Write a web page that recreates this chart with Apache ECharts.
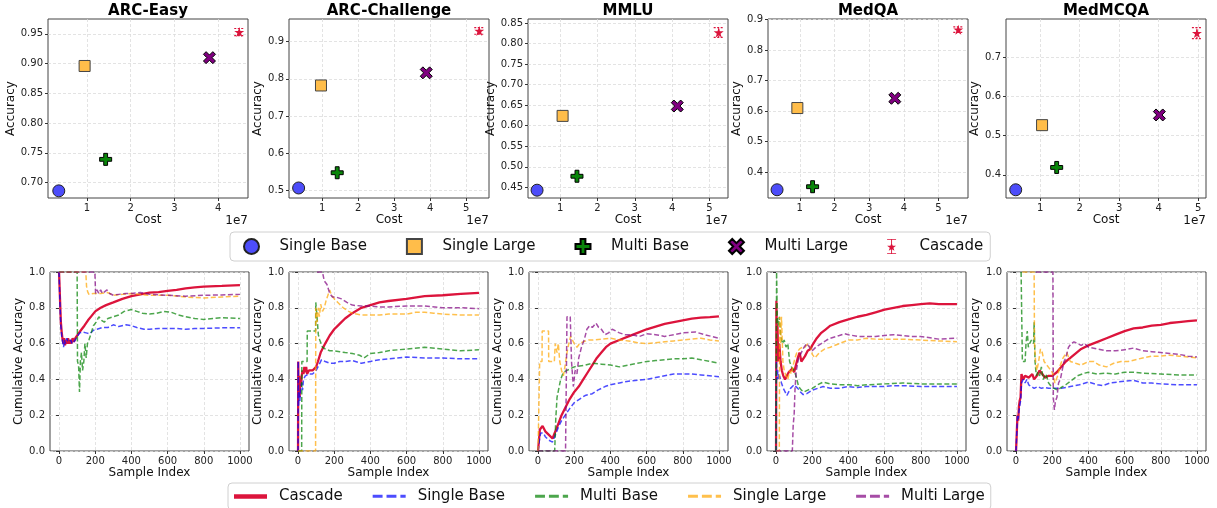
<!DOCTYPE html>
<html>
<head>
<meta charset="utf-8">
<script src="https://cdn.jsdelivr.net/npm/echarts@6/dist/echarts.min.js"></script>
<style>
  html, body { margin: 0; padding: 0; background: #fff; }
  #chart { width: 1217px; height: 508px; }
</style>
</head>
<body>
<div id="chart"></div>
<script>
// datasets / panels
const datasets = ['ARC-Easy', 'ARC-Challenge', 'MMLU', 'MedQA', 'MedMCQA'];

// cost (x1e7) vs accuracy, one value per dataset
const singleBaseCost = [0.36, 0.35, 0.38, 0.345, 0.383];
const singleBaseAcc = [0.686, 0.506, 0.443, 0.342, 0.362];
const singleLargeCost = [0.95, 0.97, 1.065, 0.93, 1.05];
const singleLargeAcc = [0.896, 0.782, 0.624, 0.61, 0.527];
const multiBaseCost = [1.43, 1.42, 1.45, 1.37, 1.42];
const multiBaseAcc = [0.739, 0.547, 0.477, 0.352, 0.419];
const multiLargeCost = [3.8, 3.89, 4.14, 3.74, 4.02];
const multiLargeAcc = [0.910, 0.816, 0.648, 0.642, 0.553];
const cascadeCost = [4.48, 5.36, 5.25, 5.57, 4.97];
const cascadeAcc = [0.953, 0.929, 0.827, 0.867, 0.762];
const cascadeErr = [0.006, 0.009, 0.012, 0.009, 0.014];

// scatter axis limits and ticks
const costMin = [0.114, 0.083, 0.137, 0.084, 0.137];
const costMax = [4.68, 5.63, 5.50, 5.85, 5.20];
const costTicks = [[1, 2, 3, 4], [1, 2, 3, 4, 5], [1, 2, 3, 4, 5], [1, 2, 3, 4, 5], [1, 2, 3, 4, 5]];
const accMin = [0.674, 0.479, 0.424, 0.315, 0.341];
const accMax = [0.975, 0.961, 0.860, 0.902, 0.798];
const accTicks = [
  [0.70, 0.75, 0.80, 0.85, 0.90, 0.95],
  [0.5, 0.6, 0.7, 0.8, 0.9],
  [0.45, 0.50, 0.55, 0.60, 0.65, 0.70, 0.75, 0.80, 0.85],
  [0.4, 0.5, 0.6, 0.7, 0.8, 0.9],
  [0.4, 0.5, 0.6, 0.7]
];
const accDecimals = [2, 1, 2, 1, 1];

// cumulative accuracy, [sample index, accuracy]
const arcEasyCascade = [[0,1],[3,1],[6,0.83],[10,0.72],[15,0.66],[20,0.62],[24,0.6],[28,0.63],[33,0.59],[38,0.62],[44,0.6],[50,0.63],[55,0.6],[62,0.62],[68,0.6],[75,0.63],[82,0.61],[90,0.63],[100,0.64],[110,0.66],[125,0.68],[140,0.7],[160,0.73],[180,0.755],[200,0.78],[230,0.8],[260,0.815],[300,0.83],[350,0.85],[400,0.865],[450,0.875],[500,0.885],[550,0.888],[600,0.894],[650,0.9],[700,0.909],[750,0.914],[800,0.918],[900,0.922],[1000,0.927]];
const arcEasySingleBase = [[0,1],[3,1],[6,0.8],[10,0.7],[15,0.64],[20,0.61],[25,0.58],[30,0.62],[35,0.6],[42,0.63],[50,0.61],[58,0.6],[65,0.62],[72,0.6],[80,0.61],[90,0.62],[100,0.64],[115,0.66],[130,0.665],[150,0.66],[170,0.655],[190,0.675],[210,0.68],[240,0.69],[270,0.69],[300,0.705],[330,0.695],[370,0.705],[400,0.7],[430,0.69],[470,0.68],[500,0.68],[550,0.685],[600,0.685],[650,0.685],[700,0.68],[750,0.685],[800,0.685],[900,0.688],[1000,0.688]];
const arcEasyMultiBase = [[0,1],[100,1],[102,0.5],[108,0.48],[113,0.33],[118,0.5],[124,0.55],[130,0.45],[137,0.5],[143,0.6],[150,0.52],[157,0.6],[165,0.62],[175,0.65],[190,0.7],[205,0.72],[220,0.75],[235,0.73],[250,0.72],[270,0.74],[300,0.75],[330,0.76],[360,0.78],[400,0.79],[430,0.78],[460,0.77],[500,0.765],[540,0.77],[580,0.78],[620,0.775],[660,0.76],[700,0.75],[750,0.74],[800,0.735],[900,0.745],[1000,0.74]];
const arcEasySingleLarge = [[0,1],[148,1],[152,0.92],[158,0.89],[165,0.875],[175,0.87],[190,0.88],[200,0.87],[230,0.88],[270,0.885],[300,0.87],[350,0.875],[400,0.88],[450,0.875],[500,0.87],[600,0.87],[700,0.86],[800,0.855],[900,0.86],[1000,0.865]];
const arcEasyMultiLarge = [[0,1],[198,1],[202,0.88],[210,0.9],[220,0.88],[230,0.9],[240,0.88],[250,0.89],[265,0.9],[280,0.88],[300,0.87],[330,0.875],[370,0.88],[400,0.88],[450,0.885],[500,0.875],[600,0.87],[700,0.865],[800,0.87],[900,0.872],[1000,0.875]];

const arcChCascade = [[0,0],[1,0.5],[3,0.33],[6,0.42],[9,0.3],[12,0.4],[16,0.36],[20,0.42],[25,0.45],[30,0.43],[35,0.47],[40,0.44],[45,0.47],[50,0.43],[60,0.45],[70,0.44],[80,0.45],[90,0.45],[100,0.47],[110,0.5],[125,0.55],[150,0.6],[175,0.645],[200,0.68],[230,0.71],[260,0.74],[300,0.77],[350,0.8],[400,0.815],[450,0.83],[500,0.838],[600,0.85],[700,0.865],[800,0.87],[900,0.878],[1000,0.883]];
const arcChSingleBase = [[0,0],[1,0.5],[3,0.25],[6,0.33],[10,0.28],[14,0.35],[20,0.38],[25,0.34],[30,0.4],[40,0.42],[50,0.42],[60,0.43],[70,0.42],[80,0.43],[90,0.44],[100,0.45],[115,0.48],[130,0.51],[150,0.5],[175,0.49],[200,0.49],[230,0.5],[260,0.5],[300,0.505],[350,0.49],[400,0.5],[450,0.51],[500,0.515],[600,0.525],[700,0.52],[800,0.52],[900,0.515],[1000,0.515]];
const arcChMultiBase = [[0,0],[20,0],[21,0.5],[50,0.5],[51,0.67],[97,0.67],[98,0.83],[105,0.75],[112,0.65],[120,0.62],[135,0.58],[150,0.57],[175,0.56],[200,0.56],[230,0.555],[260,0.55],[300,0.545],[340,0.535],[365,0.52],[400,0.545],[450,0.55],[500,0.56],[600,0.57],[700,0.58],[800,0.57],[900,0.56],[1000,0.565]];
const arcChSingleLarge = [[0,0],[97,0],[98,0.8],[105,0.72],[112,0.8],[118,0.75],[125,0.82],[135,0.78],[145,0.8],[155,0.84],[165,0.87],[175,0.9],[185,0.87],[200,0.85],[220,0.83],[250,0.8],[280,0.78],[300,0.77],[350,0.76],[400,0.76],[450,0.76],[500,0.765],[550,0.765],[600,0.765],[650,0.775],[700,0.775],[750,0.77],[800,0.765],[900,0.76],[1000,0.76]];
const arcChMultiLarge = [[105,1],[135,1],[145,0.95],[160,0.93],[175,0.88],[190,0.86],[210,0.86],[240,0.85],[270,0.83],[300,0.815],[350,0.81],[400,0.81],[450,0.805],[500,0.805],[600,0.81],[700,0.81],[800,0.8],[900,0.8],[1000,0.795]];

const mmluCascade = [[0,0],[8,0],[10,0.12],[15,0.13],[20,0.12],[25,0.14],[30,0.13],[40,0.11],[50,0.1],[60,0.09],[70,0.08],[80,0.07],[90,0.08],[100,0.12],[115,0.16],[130,0.2],[150,0.24],[175,0.29],[200,0.33],[225,0.36],[250,0.4],[275,0.44],[300,0.48],[325,0.52],[350,0.55],[375,0.58],[400,0.6],[450,0.62],[500,0.64],[550,0.66],[600,0.68],[650,0.695],[700,0.71],[750,0.72],[800,0.73],[850,0.74],[900,0.745],[950,0.748],[1000,0.752]];
const mmluSingleBase = [[0,0],[8,0],[10,0.08],[15,0.1],[20,0.09],[30,0.1],[40,0.08],[50,0.07],[60,0.06],[70,0.055],[80,0.05],[90,0.06],[100,0.1],[115,0.14],[130,0.17],[150,0.2],[170,0.23],[200,0.27],[230,0.29],[260,0.31],[300,0.32],[330,0.34],[370,0.36],[400,0.37],[450,0.38],[500,0.39],[550,0.395],[600,0.4],[650,0.41],[700,0.42],[750,0.43],[800,0.43],[850,0.43],[900,0.425],[1000,0.415]];
const mmluMultiBase = [[0,0],[92,0],[98,0.18],[105,0.3],[115,0.35],[125,0.4],[140,0.44],[160,0.45],[180,0.46],[200,0.47],[230,0.475],[260,0.48],[300,0.49],[350,0.485],[400,0.48],[450,0.47],[500,0.48],[550,0.49],[600,0.5],[650,0.505],[700,0.51],[750,0.515],[800,0.515],[850,0.52],[900,0.51],[950,0.5],[1000,0.49]];
const mmluSingleLarge = [[0,0],[8,0],[9,0.5],[22,0.5],[23,0.67],[58,0.67],[59,0.5],[90,0.5],[95,0.6],[105,0.55],[112,0.6],[120,0.5],[130,0.45],[140,0.42],[150,0.48],[160,0.55],[170,0.6],[180,0.64],[190,0.62],[200,0.6],[215,0.58],[230,0.6],[250,0.61],[280,0.62],[300,0.62],[350,0.625],[400,0.63],[450,0.62],[500,0.615],[550,0.605],[600,0.6],[650,0.605],[700,0.61],[750,0.615],[800,0.62],[850,0.625],[900,0.63],[950,0.62],[1000,0.615]];
const mmluMultiLarge = [[0,0],[152,0],[160,0.75],[178,0.75],[185,0.5],[195,0.36],[205,0.45],[215,0.43],[225,0.52],[240,0.58],[255,0.62],[270,0.68],[285,0.7],[300,0.69],[320,0.715],[335,0.69],[350,0.68],[370,0.65],[390,0.66],[410,0.68],[430,0.67],[450,0.66],[480,0.65],[520,0.65],[560,0.64],[600,0.655],[650,0.65],[700,0.64],[750,0.65],[800,0.66],[870,0.665],[920,0.65],[1000,0.63]];

const medqaCascade = [[0,0],[2,0.84],[5,0.6],[8,0.7],[12,0.5],[18,0.6],[25,0.5],[32,0.45],[40,0.42],[50,0.4],[60,0.42],[70,0.44],[80,0.43],[90,0.46],[100,0.44],[110,0.48],[120,0.52],[130,0.55],[140,0.5],[150,0.49],[160,0.53],[175,0.56],[190,0.57],[200,0.59],[225,0.63],[250,0.66],[275,0.68],[300,0.7],[350,0.72],[400,0.735],[450,0.75],[500,0.76],[550,0.775],[600,0.79],[650,0.8],[700,0.81],[750,0.815],[800,0.82],[850,0.825],[900,0.82],[1000,0.82]];
const medqaSingleBase = [[0,0],[2,0.5],[6,0.4],[10,0.45],[15,0.4],[20,0.42],[30,0.38],[40,0.35],[50,0.33],[60,0.31],[70,0.33],[80,0.35],[90,0.34],[100,0.37],[110,0.36],[120,0.35],[135,0.33],[150,0.315],[170,0.32],[200,0.34],[230,0.35],[260,0.36],[300,0.35],[350,0.35],[400,0.36],[450,0.355],[500,0.36],[550,0.36],[600,0.36],[650,0.365],[700,0.365],[800,0.36],[900,0.36],[1000,0.36]];
const medqaMultiBase = [[0,0],[3,1],[7,0.75],[12,0.7],[18,0.75],[25,0.65],[35,0.6],[45,0.62],[55,0.58],[65,0.6],[75,0.5],[85,0.47],[100,0.45],[110,0.42],[125,0.36],[140,0.34],[155,0.33],[175,0.34],[200,0.35],[230,0.37],[260,0.385],[300,0.375],[350,0.37],[400,0.37],[450,0.365],[500,0.37],[600,0.375],[700,0.38],[800,0.375],[900,0.375],[1000,0.375]];
const medqaSingleLarge = [[0,0],[18,0],[20,0.75],[25,0.6],[30,0.75],[38,0.5],[45,0.45],[55,0.42],[65,0.4],[75,0.45],[85,0.43],[95,0.48],[105,0.52],[115,0.55],[130,0.57],[145,0.58],[160,0.58],[175,0.6],[190,0.58],[200,0.54],[215,0.52],[240,0.55],[270,0.57],[300,0.58],[350,0.6],[400,0.62],[450,0.62],[500,0.63],[550,0.625],[600,0.625],[700,0.625],[800,0.62],[900,0.615],[1000,0.61]];
const medqaMultiLarge = [[0,0],[90,0],[95,0.15],[100,0.2],[105,0.35],[112,0.45],[125,0.52],[140,0.55],[155,0.58],[170,0.6],[185,0.58],[200,0.56],[220,0.58],[250,0.6],[280,0.62],[300,0.63],[350,0.645],[380,0.655],[400,0.65],[450,0.64],[500,0.64],[550,0.64],[600,0.645],[650,0.65],[700,0.645],[750,0.64],[800,0.64],[900,0.625],[1000,0.63]];

const medmcqaCascade = [[0,0],[4,0.1],[8,0.2],[12,0.17],[16,0.25],[20,0.28],[25,0.3],[30,0.43],[40,0.4],[50,0.42],[60,0.43],[70,0.41],[80,0.42],[90,0.43],[100,0.4],[115,0.42],[130,0.45],[145,0.43],[160,0.41],[180,0.42],[200,0.42],[225,0.44],[250,0.47],[275,0.5],[300,0.52],[330,0.545],[360,0.57],[400,0.59],[450,0.61],[500,0.63],[550,0.65],[600,0.67],[650,0.685],[700,0.69],[750,0.7],[800,0.705],[850,0.715],[900,0.72],[950,0.725],[1000,0.73]];
const medmcqaSingleBase = [[0,0],[4,0.1],[8,0.2],[12,0.18],[16,0.22],[20,0.25],[25,0.28],[30,0.38],[40,0.4],[50,0.38],[60,0.4],[70,0.37],[80,0.36],[100,0.35],[120,0.36],[140,0.35],[160,0.355],[180,0.35],[200,0.35],[250,0.35],[300,0.36],[350,0.37],[400,0.385],[450,0.37],[480,0.365],[520,0.38],[560,0.385],[600,0.39],[650,0.395],[700,0.38],[750,0.38],[800,0.375],[900,0.37],[1000,0.37]];
const medmcqaMultiBase = [[28,1],[34,1],[35,0.5],[50,0.5],[55,0.6],[62,0.67],[68,0.58],[75,0.6],[85,0.62],[97,0.6],[100,0.72],[105,0.5],[112,0.42],[120,0.44],[130,0.42],[140,0.47],[150,0.4],[165,0.43],[180,0.38],[195,0.36],[210,0.35],[230,0.34],[250,0.355],[275,0.37],[300,0.39],[340,0.42],[380,0.435],[400,0.44],[450,0.43],[500,0.435],[550,0.43],[600,0.44],[650,0.44],[700,0.435],[800,0.43],[900,0.425],[1000,0.425]];
const medmcqaSingleLarge = [[35,1],[100,1],[102,0.6],[108,0.5],[115,0.45],[125,0.5],[135,0.57],[145,0.55],[155,0.5],[170,0.48],[185,0.46],[200,0.44],[215,0.38],[230,0.42],[245,0.48],[260,0.52],[280,0.55],[300,0.5],[330,0.49],[360,0.48],[400,0.5],[430,0.5],[460,0.48],[500,0.47],[540,0.49],[580,0.5],[620,0.5],[660,0.51],[700,0.52],[750,0.53],[800,0.53],[850,0.535],[900,0.53],[950,0.525],[1000,0.52]];
const medmcqaMultiLarge = [[110,1],[204,1],[206,0.3],[212,0.23],[218,0.28],[226,0.3],[235,0.38],[245,0.4],[255,0.45],[265,0.5],[275,0.52],[290,0.58],[305,0.6],[320,0.61],[340,0.6],[360,0.59],[380,0.6],[400,0.58],[450,0.57],[500,0.56],[550,0.56],[600,0.565],[650,0.575],[700,0.56],[750,0.555],[800,0.55],[850,0.545],[900,0.54],[950,0.53],[1000,0.525]];

const cumCascade = [arcEasyCascade, arcChCascade, mmluCascade, medqaCascade, medmcqaCascade];
const cumSingleBase = [arcEasySingleBase, arcChSingleBase, mmluSingleBase, medqaSingleBase, medmcqaSingleBase];
const cumMultiBase = [arcEasyMultiBase, arcChMultiBase, mmluMultiBase, medqaMultiBase, medmcqaMultiBase];
const cumSingleLarge = [arcEasySingleLarge, arcChSingleLarge, mmluSingleLarge, medqaSingleLarge, medmcqaSingleLarge];
const cumMultiLarge = [arcEasyMultiLarge, arcChMultiLarge, mmluMultiLarge, medqaMultiLarge, medmcqaMultiLarge];

const sampleTicks = [0, 200, 400, 600, 800, 1000];
const cumTicks = [0, 0.2, 0.4, 0.6, 0.8, 1.0];

// layout
const FONT = 'DejaVu Sans';
const topLefts = [48, 289, 528, 768, 1006];
const botLefts = [50, 289, 529, 767, 1007];
const accNameGap = [26, 20, 26, 20, 20];

const SQUARE = 'path://M0,0 H100 V100 H0 Z';
const PLUS = 'path://M34,0 H66 V34 H100 V66 H66 V100 H34 V66 H0 V34 H34 Z';
const CROSS = 'path://M22,0 L50,28 L78,0 L100,22 L72,50 L100,78 L78,100 L50,72 L22,100 L0,78 L28,50 L0,22 Z';
const STAR = 'path://M50,0 L61,35 L98,35 L68,57 L79,92 L50,71 L21,92 L32,57 L2,35 L39,35 Z';
const STAR_BAR = 'path://M20,0 H80 V5 H20 Z M47,0 H53 V100 H47 Z M20,95 H80 V100 H20 Z M50,26 L58,45 L80,45 L62,58 L69,78 L50,66 L31,78 L38,58 L20,45 L42,45 Z';
const SOLID_ICON = 'path://M0,0 H100 V14 H0 Z';
const DASH_ICON = 'path://M0,2 H30 V11 H0 Z M42,2 H72 V11 H42 Z M84,2 H100 V11 H84 Z M0,0 H0.01 V14 H0 Z';

const chart = echarts.init(document.getElementById('chart'));

const grids = [], xAxes = [], yAxes = [], series = [], graphics = [];

function axisBase(gridIndex, min, max, ticks, fmt) {
  return {
    type: 'value', gridIndex, min, max,
    axisLine: { show: false },
    axisTick: { show: true, length: 3, lineStyle: { color: '#333' }, customValues: ticks },
    axisLabel: { customValues: ticks, formatter: fmt, fontSize: 10, color: '#222', fontFamily: FONT, margin: 5 },
    splitLine: { show: true, lineStyle: { color: '#dcdcdc', type: [3, 2], width: 0.8 } },
    nameTextStyle: { fontSize: 12, color: '#111', fontFamily: FONT }
  };
}

datasets.forEach((d, i) => {
  grids.push({ left: topLefts[i], top: 19, width: 200, height: 179, show: true,
    borderColor: '#444', borderWidth: 1, backgroundColor: 'transparent', outerBoundsMode: 'none' });
  xAxes.push(Object.assign(axisBase(i, costMin[i], costMax[i], costTicks[i], v => String(v)),
    { name: 'Cost', nameLocation: 'middle', nameGap: 16 }));
  yAxes.push(Object.assign(axisBase(i, accMin[i], accMax[i], accTicks[i], v => v.toFixed(accDecimals[i])),
    { name: 'Accuracy', nameLocation: 'middle', nameGap: accNameGap[i] }));
  graphics.push({ type: 'text', x: topLefts[i] + 100, y: 11,
    style: { text: d, align: 'center', verticalAlign: 'middle', fontSize: 15, fontWeight: 'bold', fontFamily: FONT, fill: '#000' } });
  graphics.push({ type: 'text', x: topLefts[i] + 200, y: 221,
    style: { text: '1e7', align: 'right', verticalAlign: 'middle', fontSize: 12, fontFamily: FONT, fill: '#111' } });
});

datasets.forEach((d, i) => {
  grids.push({ left: botLefts[i], top: 272, width: 199, height: 179, show: true,
    borderColor: '#444', borderWidth: 1, backgroundColor: 'transparent', outerBoundsMode: 'none' });
  xAxes.push(Object.assign(axisBase(5 + i, -50, 1050, sampleTicks, v => String(v)),
    { name: 'Sample Index', nameLocation: 'middle', nameGap: 14 }));
  yAxes.push(Object.assign(axisBase(5 + i, 0, 1, cumTicks, v => v.toFixed(1)),
    { name: 'Cumulative Accuracy', nameLocation: 'middle', nameGap: 21 }));
});

const scatterDefs = [
  { name: 'Single Base', cost: singleBaseCost, acc: singleBaseAcc, symbol: 'circle', size: 12, color: '#4d4dfa', border: '#222' },
  { name: 'Single Large', cost: singleLargeCost, acc: singleLargeAcc, symbol: SQUARE, size: 11, color: '#ffbd4a', border: '#444' },
  { name: 'Multi Base', cost: multiBaseCost, acc: multiBaseAcc, symbol: PLUS, size: 12, color: '#0a850a', border: '#000' },
  { name: 'Multi Large', cost: multiLargeCost, acc: multiLargeAcc, symbol: CROSS, size: 12, color: '#800080', border: '#000' },
  { name: 'Cascade', cost: cascadeCost, acc: cascadeAcc, symbol: STAR, size: 10, color: '#dc143c', border: null }
];

scatterDefs.forEach(s => {
  datasets.forEach((d, i) => {
    series.push({
      type: 'scatter', name: s.name, xAxisIndex: i, yAxisIndex: i,
      symbol: s.symbol, symbolSize: s.size,
      itemStyle: { color: s.color, borderColor: s.border || s.color, borderWidth: s.border ? 1 : 0, opacity: 1 },
      data: [[s.cost[i], s.acc[i]]], z: 3
    });
  });
});

datasets.forEach((d, i) => {
  series.push({
    type: 'custom', name: 'Cascade', xAxisIndex: i, yAxisIndex: i, z: 2,
    encode: { x: 0, y: 1 },
    data: [[cascadeCost[i], cascadeAcc[i], cascadeErr[i]]],
    renderItem: (params, api) => {
      const x = api.value(0), y = api.value(1), e = api.value(2);
      const p0 = api.coord([x, y - e]);
      const p1 = api.coord([x, y + e]);
      const st = { stroke: '#dc143c', lineWidth: 1.2, lineDash: [2, 1.5], fill: null };
      return { type: 'group', children: [
        { type: 'line', shape: { x1: p0[0], y1: p0[1], x2: p1[0], y2: p1[1] }, style: st },
        { type: 'line', shape: { x1: p0[0] - 5, y1: p0[1], x2: p0[0] + 5, y2: p0[1] }, style: st },
        { type: 'line', shape: { x1: p1[0] - 5, y1: p1[1], x2: p1[0] + 5, y2: p1[1] }, style: st }
      ] };
    }
  });
});

const lineDefs = [
  { name: 'Cascade', data: cumCascade, color: '#dc143c', width: 2.3, type: 'solid', opacity: 1, icon: SOLID_ICON },
  { name: 'Single Base', data: cumSingleBase, color: '#0000ff', width: 1.5, type: [5, 2.5], opacity: 0.7, icon: DASH_ICON },
  { name: 'Multi Base', data: cumMultiBase, color: '#008000', width: 1.5, type: [5, 2.5], opacity: 0.7, icon: DASH_ICON },
  { name: 'Single Large', data: cumSingleLarge, color: '#ffa500', width: 1.5, type: [5, 2.5], opacity: 0.7, icon: DASH_ICON },
  { name: 'Multi Large', data: cumMultiLarge, color: '#800080', width: 1.5, type: [5, 2.5], opacity: 0.7, icon: DASH_ICON }
];

lineDefs.forEach(l => {
  datasets.forEach((d, i) => {
    series.push({
      type: 'line', name: l.name + '_cum', xAxisIndex: 5 + i, yAxisIndex: 5 + i,
      symbol: 'none', showSymbol: false,
      itemStyle: { color: l.color, opacity: l.opacity, borderWidth: 0 },
      lineStyle: { color: l.color, width: l.width, type: l.type, opacity: l.opacity },
      data: l.data[i], z: 2
    });
  });
});

const legendText = { fontSize: 15, color: '#111', fontFamily: FONT };

chart.setOption({
  animation: false,
  backgroundColor: '#fff',
  grid: grids,
  xAxis: xAxes,
  yAxis: yAxes,
  graphic: graphics,
  legend: [
    {
      left: 230, top: 232, orient: 'horizontal',
      itemWidth: 46, itemHeight: 15, itemGap: 39,
      padding: [6, 7, 6, 13], borderColor: '#d0d0d0', borderWidth: 1, borderRadius: 4,
      backgroundColor: '#fff',
      textStyle: legendText,
      data: [
        { name: 'Single Base' }, { name: 'Single Large' }, { name: 'Multi Base' },
        { name: 'Multi Large' }, { name: 'Cascade', icon: STAR_BAR }
      ]
    },
    {
      left: 228, top: 483, orient: 'horizontal',
      itemWidth: 33, itemHeight: 5, itemGap: 30,
      padding: [6, 6, 6, 6], borderColor: '#d0d0d0', borderWidth: 1, borderRadius: 4,
      backgroundColor: '#fff',
      textStyle: Object.assign({ padding: [0, 0, 0, 7] }, legendText),
      formatter: n => n.replace('_cum', ''),
      data: lineDefs.map(l => ({ name: l.name + '_cum', icon: l.icon, itemStyle: { borderWidth: 0 } }))
    }
  ],
  series
});
</script>
</body>
</html>
